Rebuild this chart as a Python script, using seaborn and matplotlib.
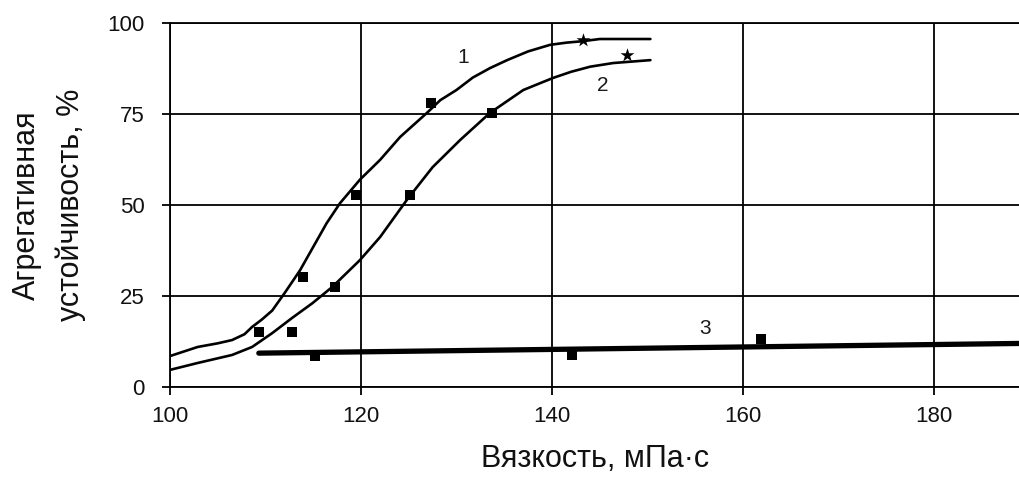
import matplotlib
matplotlib.use("Agg")
import matplotlib.pyplot as plt
import seaborn as sns
import pandas as pd

# Curves
curve1_x = [100, 102.9, 105, 106.5, 107.8, 108.6, 109.6, 110.7, 112, 113.6, 115, 116.4, 117.8, 119.9,
            122, 124.1, 126.9, 128.3, 130, 131.7, 133.5, 135.3, 137.5, 139.8, 141.5, 143.2, 145, 150.3]
curve1_y = [8.5, 11, 12, 12.9, 14.5, 16.5, 18.5, 21, 25.8, 32, 38.5, 45, 50.5, 57,
            62.4, 68.7, 75.3, 78.8, 81.6, 85, 87.6, 89.8, 92.2, 94, 94.6, 95, 95.6, 95.6]
curve2_x = [100, 102.9, 106.5, 108.6, 110.7, 112.8, 114.9, 117, 119.9, 122, 124.8, 127.5,
            130.4, 133.5, 137, 140.1, 142, 144, 146.4, 150.3]
curve2_y = [4.7, 6.6, 8.8, 11, 14.8, 19, 23, 27.5, 34.9, 41.2, 51.4, 60.4,
            67.9, 75.3, 81.6, 84.9, 86.6, 88, 89, 89.8]
curve3_x = [109.3, 190]
curve3_y = [9.3, 12]

# Measured points
sq1_x = [109.3, 113.9, 119.5, 127.3]
sq1_y = [15.1, 30.2, 52.7, 78]
sq2_x = [112.8, 117.3, 125.1, 133.7]
sq2_y = [15.1, 27.5, 52.7, 75.3]
sq3_x = [115.2, 142.1, 161.9]
sq3_y = [8.5, 8.7, 13.2]
star_x = [143.2, 147.9]
star_y = [95.3, 91.2]

curve_labels = ["1", "2", "3"]
label_x = [130.7, 145.3, 156]
label_y = [90.4, 82.7, 16.2]

x_ticks = [100, 120, 140, 160, 180]
y_ticks = [0, 25, 50, 75, 100]
x_label = "Вязкость, мПа·с"
y_label = "Агрегативная\nустойчивость, %"

sns.set_theme(style="white")
plt.rcParams["font.family"] = ["Liberation Sans", "DejaVu Sans"]

fig = plt.figure(figsize=(10.2, 4.92), dpi=100)
ax = fig.add_axes([170 / 1020, 1 - 387 / 492, 1 - 170 / 1020, (387 - 23) / 492])

sns.lineplot(x=curve1_x, y=curve1_y, ax=ax, color="black", lw=1.9, sort=False)
sns.lineplot(x=curve2_x, y=curve2_y, ax=ax, color="black", lw=1.9, sort=False)
sns.lineplot(x=curve3_x, y=curve3_y, ax=ax, color="black", lw=3.8, sort=False)

sq_df = pd.DataFrame({"x": sq1_x + sq2_x + sq3_x, "y": sq1_y + sq2_y + sq3_y})
sns.scatterplot(data=sq_df, x="x", y="y", ax=ax, marker="s", s=60, color="black",
                edgecolor="black", linewidth=0, zorder=5)
sns.scatterplot(x=star_x, y=star_y, ax=ax, marker="*", s=110, color="black",
                edgecolor="black", linewidth=0, zorder=5)

for t, lx, ly in zip(curve_labels, label_x, label_y):
    ax.text(lx, ly, t, fontsize=15, ha="center", va="center", color="#1a1a1a")

ax.set_xlim(100, 189)
ax.set_ylim(0, 100)
ax.set_xticks(x_ticks)
ax.set_yticks(y_ticks)
ax.grid(True, color="black", lw=1.3)
ax.set_axisbelow(True)
for s in ["left", "bottom", "top"]:
    ax.spines[s].set_visible(True)
    ax.spines[s].set_color("black")
    ax.spines[s].set_linewidth(1.3)
ax.spines["right"].set_visible(False)
ax.tick_params(axis="both", which="major", length=6, width=1.3, color="black",
               direction="out", labelsize=16, labelcolor="#111111", left=True, bottom=True)
ax.tick_params(axis="y", pad=12)
ax.tick_params(axis="x", pad=8)

ax.set_xlabel(x_label, fontsize=22, labelpad=12, color="#111111")
ax.set_ylabel(y_label, fontsize=22, labelpad=16, color="#111111", linespacing=1.55)

fig.savefig("out.png", dpi=100)
